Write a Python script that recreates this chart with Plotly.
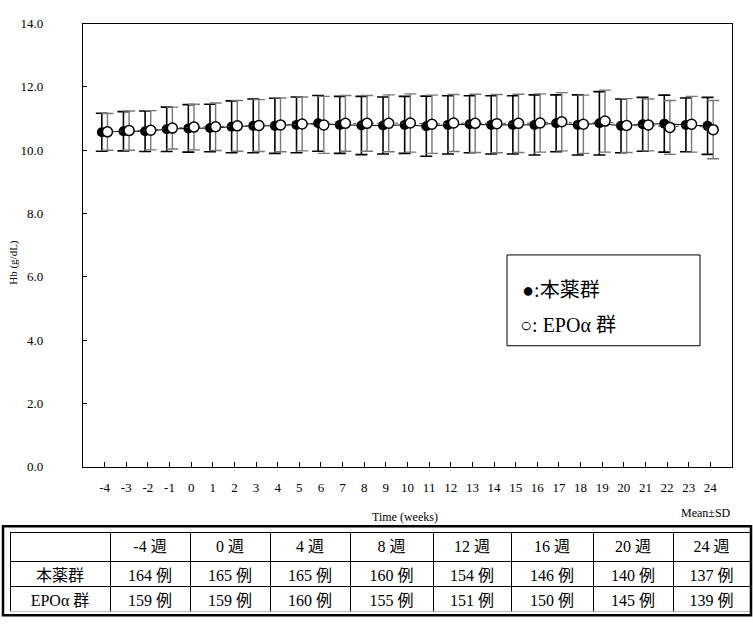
import plotly.graph_objects as go

# ---------------- data ----------------
weeks = list(range(-4, 25))
hb_drug_mean = [10.57, 10.60, 10.60, 10.66, 10.69, 10.70, 10.74, 10.77, 10.77, 10.80,
                10.85, 10.80, 10.78, 10.78, 10.80, 10.76, 10.80, 10.82, 10.80, 10.80,
                10.80, 10.85, 10.80, 10.85, 10.77, 10.82, 10.84, 10.80, 10.77]
hb_drug_sd = [0.60, 0.62, 0.64, 0.70, 0.75, 0.75, 0.82, 0.85, 0.87, 0.88,
              0.88, 0.90, 0.92, 0.90, 0.90, 0.95, 0.92, 0.90, 0.92, 0.92,
              0.95, 0.90, 0.95, 1.00, 0.85, 0.85, 0.90, 0.85, 0.90]
hb_epo_mean = [10.58, 10.62, 10.63, 10.70, 10.73, 10.74, 10.77, 10.78, 10.80, 10.83,
               10.80, 10.85, 10.85, 10.85, 10.86, 10.82, 10.86, 10.85, 10.84, 10.85,
               10.86, 10.90, 10.82, 10.92, 10.78, 10.80, 10.72, 10.82, 10.65]
hb_epo_sd = [0.58, 0.62, 0.62, 0.66, 0.72, 0.75, 0.80, 0.82, 0.85, 0.85,
             0.90, 0.88, 0.88, 0.90, 0.92, 0.92, 0.90, 0.92, 0.92, 0.92,
             0.92, 0.92, 0.92, 0.98, 0.85, 0.82, 0.85, 0.88, 0.92]

y_ticks = [0, 2, 4, 6, 8, 10, 12, 14]
table_header = ["", "-4 週", "0 週", "4 週", "8 週", "12 週", "16 週", "20 週", "24 週"]
group_names = ["本薬群", "EPOα 群"]
n_drug = ["164 例", "165 例", "165 例", "160 例", "154 例", "146 例", "140 例", "137 例"]
n_epo = ["159 例", "159 例", "160 例", "155 例", "151 例", "150 例", "145 例", "139 例"]

W, H = 753, 630
SERIF = "Liberation Serif, Times New Roman, Noto Sans CJK JP, serif"

def px(x):
    return x / W

def py(y):
    return (H - y) / H

offset = 0.13
fig = go.Figure()

fig.add_trace(go.Scatter(
    x=[w - offset for w in weeks], y=hb_drug_mean,
    mode="lines+markers", name="本薬群",
    line=dict(color="black", width=1),
    marker=dict(symbol="circle", size=10, color="black"),
    error_y=dict(type="data", array=hb_drug_sd, visible=True,
                 color="black", thickness=1.6, width=6),
    showlegend=False,
))
fig.add_trace(go.Scatter(
    x=[w + offset for w in weeks], y=hb_epo_mean,
    mode="lines+markers", name="EPOα 群",
    line=dict(color="#444", width=1, dash="dot"),
    marker=dict(symbol="circle", size=10, color="white",
                line=dict(color="black", width=1.5)),
    error_y=dict(type="data", array=hb_epo_sd, visible=True,
                 color="#777", thickness=1.4, width=6),
    showlegend=False,
))

# ---------------- table ----------------
fig.add_trace(go.Table(
    domain=dict(x=[px(10), px(750)], y=[py(619), py(538)]),
    columnwidth=[100, 80, 80, 80, 83, 78, 82, 80, 77],
    header=dict(values=table_header, height=29, align="center",
                fill_color="white", line=dict(color="black", width=1),
                font=dict(family=SERIF, size=16, color="black")),
    cells=dict(values=[group_names] + [[a, b] for a, b in zip(n_drug, n_epo)],
               height=25, align="center",
               fill_color="white", line=dict(color="black", width=1),
               font=dict(family=SERIF, size=16, color="black")),
))

fig.update_layout(
    width=W, height=H,
    margin=dict(l=0, r=0, t=0, b=0),
    paper_bgcolor="white", plot_bgcolor="white",
    font=dict(family=SERIF, color="black"),
    xaxis=dict(
        domain=[px(83), px(732)], range=[-5, 25],
        tickmode="array", tickvals=weeks, ticktext=[str(w) for w in weeks],
        ticks="inside", ticklen=5, tickcolor="black",
        showline=True, linecolor="black", linewidth=1.2, mirror=True,
        showgrid=False, zeroline=False,
        tickfont=dict(family=SERIF, size=13, color="black"),
        ticklabelstandoff=9,
    ),
    yaxis=dict(
        domain=[py(471), py(17)], range=[0, 14],
        tickmode="array", tickvals=y_ticks, ticktext=[f"{v:.1f}" for v in y_ticks],
        ticks="inside", ticklen=4, tickcolor="black",
        showline=True, linecolor="black", linewidth=1.2, mirror=True,
        showgrid=False, zeroline=False,
        tickfont=dict(family=SERIF, size=13, color="black"),
        ticklabelstandoff=36,
    ),
    shapes=[
        # legend box
        dict(type="rect", xref="paper", yref="paper",
             x0=px(507), x1=px(700), y0=py(347), y1=py(254),
             line=dict(color="black", width=1), fillcolor="white", layer="above"),
        # table outer frame
        dict(type="rect", xref="paper", yref="paper",
             x0=px(3), x1=px(751), y0=py(623), y1=py(532),
             line=dict(color="black", width=2.5)),
    ],
    annotations=[
        dict(text="●:本薬群", xref="paper", yref="paper", x=px(520), y=py(290),
             xanchor="left", yanchor="middle", showarrow=False,
             font=dict(family=SERIF, size=20, color="black")),
        dict(text="○: EPOα 群", xref="paper", yref="paper", x=px(518), y=py(326),
             xanchor="left", yanchor="middle", showarrow=False,
             font=dict(family=SERIF, size=20, color="black")),
        dict(text="Hb (g/dL)", xref="paper", yref="paper", x=px(14), y=py(262),
             xanchor="center", yanchor="middle", textangle=-90, showarrow=False,
             font=dict(family=SERIF, size=11, color="black")),
        dict(text="Time (weeks)", xref="paper", yref="paper", x=px(405), y=py(522),
             xanchor="center", yanchor="middle", showarrow=False,
             font=dict(family=SERIF, size=12, color="black")),
        dict(text="Mean±SD", xref="paper", yref="paper", x=px(706), y=py(518),
             xanchor="center", yanchor="middle", showarrow=False,
             font=dict(family=SERIF, size=12, color="black")),
    ],
)

fig.write_html("out.html")
